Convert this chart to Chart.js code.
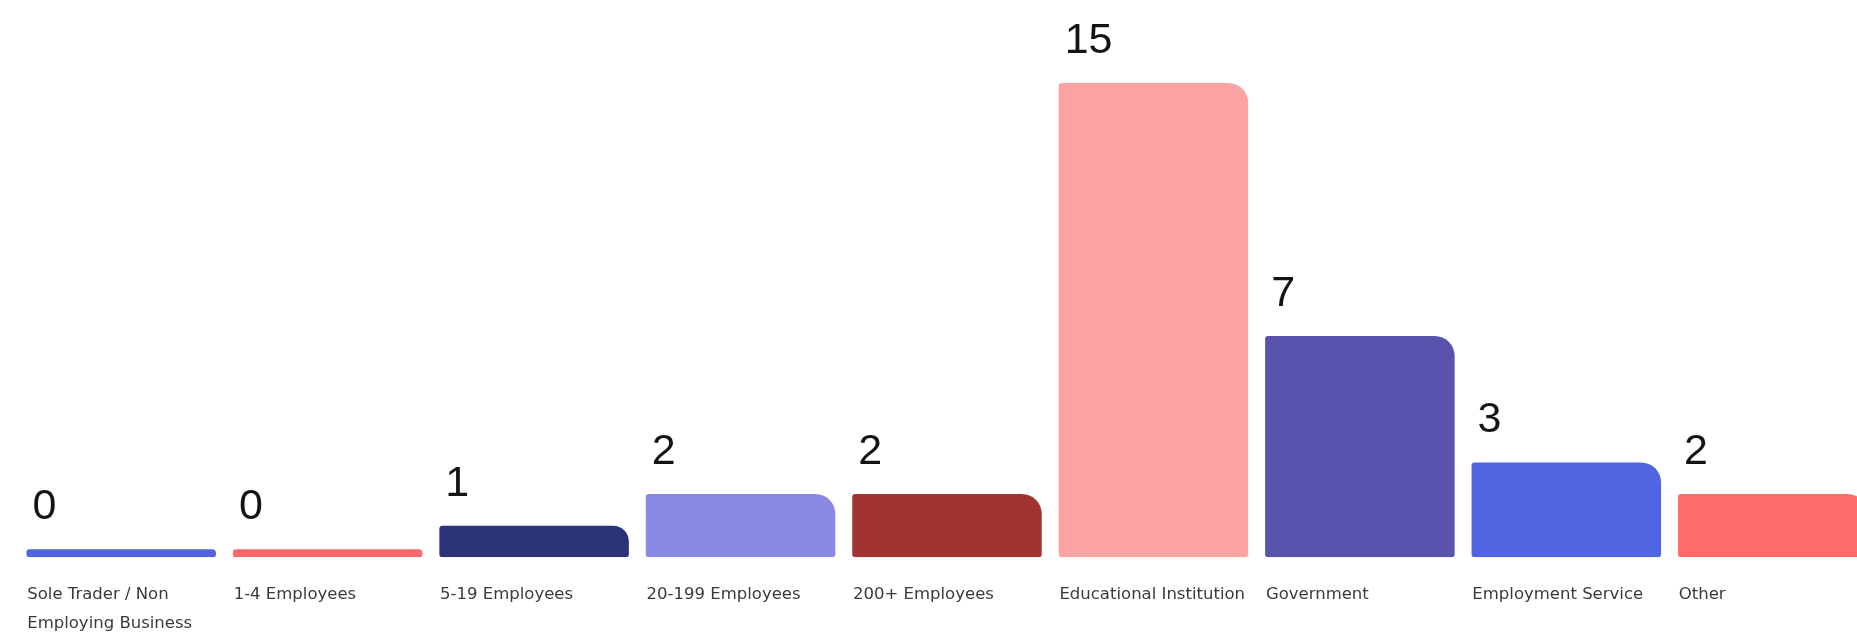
<!DOCTYPE html>
<html>
<head>
<meta charset="utf-8">
<script src="https://cdn.jsdelivr.net/npm/chart.js@4.4.0/dist/chart.umd.min.js"></script>
<style>
  html, body { margin: 0; padding: 0; background: #fff; overflow: hidden; }
  #wrap { width: 1876px; height: 661px; }
</style>
</head>
<body>
<div id="wrap"><canvas id="orgChart" width="1876" height="661"></canvas></div>
<script>
// categories shown under the bars
const categories = [
    ['Sole Trader / Non', 'Employing Business'],
    '1-4 Employees',
    '5-19 Employees',
    '20-199 Employees',
    '200+ Employees',
    'Educational Institution',
    'Government',
    'Employment Service',
    'Other'
];

// number of responses per category
const counts = [0, 0, 1, 2, 2, 15, 7, 3, 2];

const barColors = [
    '#5163de', // Sole Trader
    '#fa6a6a', // 1-4
    '#2c3377', // 5-19
    '#8a89e6', // 20-199
    '#a33333', // 200+
    '#fea3a3', // Educational
    '#5a53ae', // Government
    '#5165e2', // Employment Service
    '#fe6c69'  // Other
];

// draws the number above each bar, left aligned with the bar
const valueLabels = {
    id: 'valueLabels',
    afterDatasetsDraw(chart) {
        const ctx = chart.ctx;
        const meta = chart.getDatasetMeta(0);
        ctx.save();
        ctx.font = '43px "Liberation Sans", Arial, sans-serif';
        ctx.fillStyle = '#141414';
        ctx.textAlign = 'left';
        ctx.textBaseline = 'alphabetic';
        meta.data.forEach((bar, i) => {
            const left = bar.x - bar.width / 2;
            ctx.fillText(String(counts[i]), left + 6, bar.y - 30);
        });
        ctx.restore();
    }
};

const ctx = document.getElementById('orgChart').getContext('2d');

new Chart(ctx, {
    type: 'bar',
    data: {
        labels: categories,
        datasets: [{
            data: counts,
            backgroundColor: barColors,
            borderWidth: 0,
            borderSkipped: false,
            borderRadius: { topLeft: 3, topRight: 20, bottomLeft: 3, bottomRight: 3 },
            minBarLength: 8,
            barPercentage: 0.918,
            categoryPercentage: 1
        }]
    },
    options: {
        responsive: false,
        animation: false,
        layout: { padding: { top: 83, left: 18, right: 0, bottom: 0 } },
        plugins: {
            legend: { display: false },
            tooltip: { enabled: false }
        },
        scales: {
            x: {
                grid: { display: false, drawTicks: false },
                border: { display: false },
                ticks: {
                    align: 'start',
                    labelOffset: -94,
                    padding: 23,
                    maxRotation: 0,
                    autoSkip: false,
                    color: '#3a3a3a',
                    font: { family: '"DejaVu Sans", sans-serif', size: 16.5, lineHeight: 1.75 }
                }
            },
            y: {
                display: false,
                min: 0,
                max: 15
            }
        }
    },
    plugins: [valueLabels]
});
</script>
</body>
</html>
